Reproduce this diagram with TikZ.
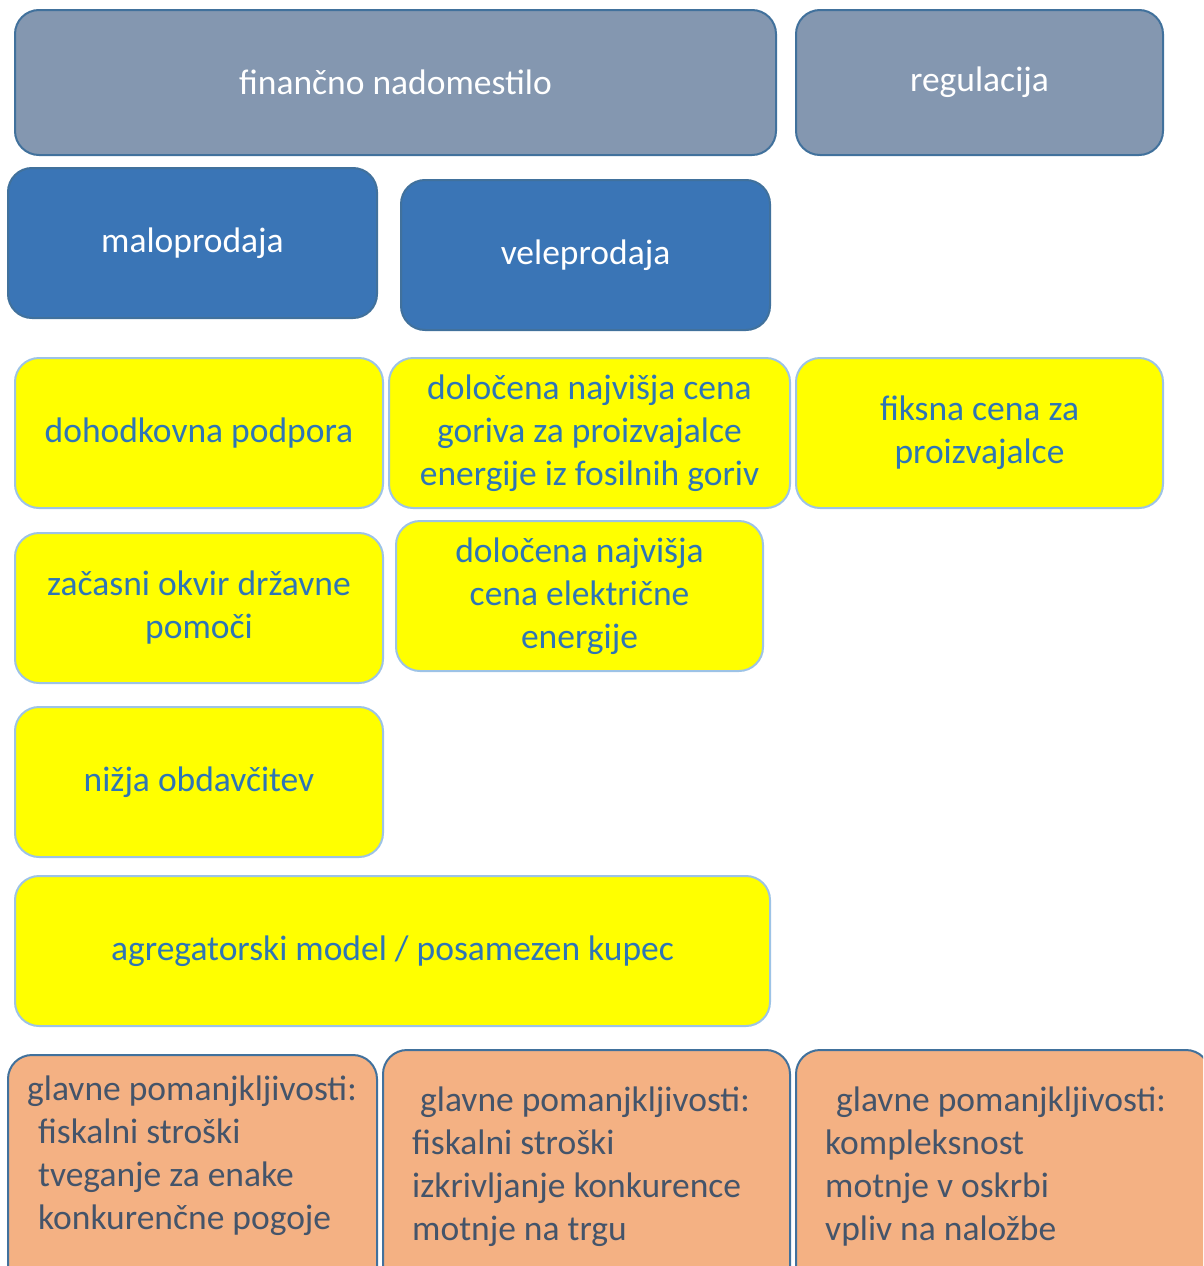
\documentclass[tikz,border=0pt]{standalone}
\usepackage{fontspec}
\setmainfont{Carlito}
\usetikzlibrary{positioning}
\definecolor{grayfill}{RGB}{132,151,176}
\definecolor{edgeblue}{RGB}{65,113,156}
\definecolor{marketblue}{RGB}{58,117,182}
\definecolor{lightedge}{RGB}{157,195,230}
\definecolor{measurefill}{RGB}{255,255,0}
\definecolor{textblue}{RGB}{46,117,182}
\definecolor{flaworange}{RGB}{244,177,131}
\definecolor{flawtext}{RGB}{68,84,106}
\newcommand{\boxfont}{\fontsize{35.5}{43}\selectfont}

\begin{document}
\begin{tikzpicture}[x=1pt,y=-1pt,
  base/.style={rounded corners=24pt, line width=2pt, inner sep=0pt, align=center, font=\boxfont},
  toplevel/.style={base, draw=edgeblue, fill=grayfill, text=white},
  market/.style={base, draw=edgeblue, fill=marketblue, text=white},
  measure/.style={base, draw=lightedge, fill=measurefill, text=textblue},
  flaw/.style={base, draw=edgeblue, fill=flaworange},
  flawtxt/.style={inner sep=0pt, align=left, anchor=north west, text=flawtext, font=\boxfont}]
\useasboundingbox (0,0) rectangle (1203,1266);
\clip (0,0) rectangle (1203,1266);
% top level
\node[toplevel, minimum width=761pt, minimum height=145pt] (fin) at (395.5,82.5) {finančno nadomestilo};
\node[toplevel, minimum width=367pt, minimum height=145pt] (reg) at (979.5,82.5) {regulacija};
% markets
\node[market, minimum width=369pt, minimum height=150pt] (retail) at (192.5,243) {maloprodaja};
\node[market, minimum width=369pt, minimum height=150pt] (wholesale) at (585.5,255) {veleprodaja};
% measures
\node[measure, minimum width=368pt, minimum height=150pt] (income) at (199,433) {dohodkovna podpora};
\node[measure, minimum width=401pt, minimum height=150pt] (fuelcap) at (589.5,433) {določena najvišja cena\\goriva za proizvajalce\\energije iz fosilnih goriv};
\node[measure, minimum width=367pt, minimum height=150pt] (fixprice) at (979.5,433) {fiksna cena za\\proizvajalce};
\node[measure, minimum width=368pt, minimum height=150pt] (aid) at (199,608) {začasni okvir državne\\pomoči};
\node[measure, minimum width=367pt, minimum height=150pt] (powercap) at (579.5,596) {določena najvišja\\cena električne\\energije};
\node[measure, minimum width=368pt, minimum height=150pt] (tax) at (199,782) {nižja obdavčitev};
\node[measure, minimum width=755pt, minimum height=150pt] (aggr) at (392.5,951) {agregatorski model / posamezen kupec};
% drawbacks
\node[flaw, minimum width=369pt, minimum height=240pt] (flaw1) at (192.5,1175) {};
\node[flaw, minimum width=407pt, minimum height=240pt] (flaw2) at (586.5,1170) {};
\node[flaw, minimum width=414pt, minimum height=240pt] (flaw3) at (1003,1170) {};
\node[flawtxt] (flawtxt1) at (27,1076) {glavne pomanjkljivosti:\\\hspace*{11pt}fiskalni stroški\\\hspace*{11pt}tveganje za enake\\\hspace*{11pt}konkurenčne pogoje};
\node[flawtxt] (flawtxt2) at (412,1087) {\hspace*{8pt}glavne pomanjkljivosti:\\fiskalni stroški\\izkrivljanje konkurence\\motnje na trgu};
\node[flawtxt] (flawtxt3) at (825,1087) {\hspace*{11pt}glavne pomanjkljivosti:\\kompleksnost\\motnje v oskrbi\\vpliv na naložbe};
\end{tikzpicture}
\end{document}
